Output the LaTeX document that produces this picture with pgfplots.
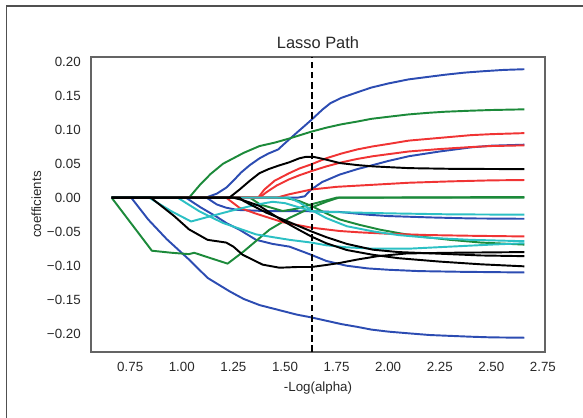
\documentclass[border=0pt]{standalone}
\usepackage{pgfplots}
\pgfplotsset{compat=1.18}
\usepackage{fontspec}
\setmainfont{Liberation Sans}
\definecolor{cb}{RGB}{44,76,178}
\definecolor{cg}{RGB}{28,138,58}
\definecolor{cr}{RGB}{240,52,52}
\definecolor{cc}{RGB}{44,192,196}
\definecolor{framegray}{RGB}{80,80,80}
\definecolor{axisgray}{RGB}{100,100,100}
\definecolor{txt}{RGB}{40,40,40}
\begin{document}
\begin{tikzpicture}
\path[use as bounding box] (0pt,0pt) rectangle (437.25pt,313.5pt);
\draw[color=framegray, line width=1.1pt] (4.7pt,0pt) -- (4.7pt,309.1pt) -- (437.25pt,309.1pt);
\begin{axis}[
  at={(68.25pt,49.5pt)}, anchor=south west,
  scale only axis, width=340.5pt, height=221.25pt,
  xmin=0.56, xmax=2.76, ymin=-0.227, ymax=0.207,
  axis line style={draw=axisgray, line width=1pt},
  major tick length=0pt,
  xtick={0.75,1.0,1.25,1.5,1.75,2.0,2.25,2.5,2.75},
  xticklabels={0.75,1.00,1.25,1.50,1.75,2.00,2.25,2.50,2.75},
  ytick={-0.2,-0.15,-0.1,-0.05,0,0.05,0.1,0.15,0.2},
  yticklabels={−0.20,−0.15,−0.10,−0.05,0.00,0.05,0.10,0.15,0.20},
  tick label style={font=\fontsize{10}{12}\selectfont, text=txt, inner sep=0pt},
  xticklabel style={anchor=north, yshift=-7.3pt},
  yticklabel style={anchor=east, xshift=-7.5pt},
  title={Lasso Path},
  title style={at={(axis description cs:0.5,1.0)}, anchor=base, inner sep=0pt, font=\fontsize{12.3}{14}\selectfont, text=txt},
  xlabel={-Log(alpha)},
  xlabel style={at={(axis description cs:0.5,-0.1342)}, anchor=base, inner sep=0pt, font=\fontsize{10}{12}\selectfont, text=txt},
  ylabel={coefficients},
  ylabel style={at={(axis description cs:-0.1101,0.5)}, anchor=base, inner sep=0pt, font=\fontsize{10}{12}\selectfont, text=txt},
  every axis plot/.append style={line width=1.45pt, line join=round},
  clip=true,
]
% ---- blue ----
\addplot[cb] coordinates {(0.66,0) (1.116,0) (1.17,0.006) (1.215,0.0147) (1.25,0.025) (1.287,0.037) (1.33,0.048) (1.377,0.058) (1.42,0.065) (1.467,0.071) (1.503,0.081) (1.557,0.0956) (1.60,0.107) (1.626,0.114) (1.683,0.130) (1.72,0.139) (1.774,0.147) (1.85,0.155) (1.918,0.162) (2.0,0.168) (2.098,0.174) (2.2,0.178) (2.278,0.181) (2.37,0.184) (2.458,0.186) (2.56,0.188) (2.66,0.189)};
\addplot[cb] coordinates {(0.66,0) (1.56,0) (1.595,0.002) (1.627,0.012) (1.68,0.023) (1.765,0.034) (1.85,0.042) (1.926,0.048) (2.0,0.054) (2.1,0.061) (2.25,0.068) (2.4,0.074) (2.5,0.0765) (2.66,0.078)};
\addplot[cb] coordinates {(0.66,0) (1.12,0) (1.17,-0.010) (1.215,-0.0147) (1.27,-0.018) (1.40,-0.0196) (1.627,-0.020) (1.765,-0.021) (1.9,-0.025) (2.0,-0.027) (2.2,-0.029) (2.4,-0.0305) (2.66,-0.031)};
\addplot[cb] coordinates {(0.66,0) (1.02,0) (1.09,-0.014) (1.166,-0.0275) (1.22,-0.038) (1.279,-0.047) (1.36,-0.062) (1.44,-0.068) (1.522,-0.072) (1.627,-0.084) (1.70,-0.093) (1.797,-0.100) (1.9,-0.104) (2.0,-0.106) (2.15,-0.108) (2.35,-0.109) (2.66,-0.110)};
\addplot[cb] coordinates {(0.66,0) (0.755,0) (0.837,-0.032) (0.927,-0.061) (1.035,-0.091) (1.125,-0.118) (1.233,-0.138) (1.30,-0.149) (1.377,-0.158) (1.467,-0.165) (1.557,-0.172) (1.626,-0.176) (1.70,-0.181) (1.774,-0.186) (1.85,-0.190) (1.918,-0.194) (2.0,-0.197) (2.098,-0.1995) (2.2,-0.202) (2.278,-0.203) (2.4,-0.2045) (2.5,-0.2055) (2.66,-0.206)};
% ---- green ----
\addplot[cg] coordinates {(0.66,0) (1.035,0) (1.09,0.0196) (1.14,0.035) (1.20,0.050) (1.25,0.058) (1.30,0.066) (1.377,0.076) (1.45,0.081) (1.52,0.087) (1.626,0.097) (1.70,0.103) (1.774,0.108) (1.85,0.112) (1.918,0.116) (2.0,0.119) (2.098,0.1225) (2.2,0.125) (2.278,0.1265) (2.4,0.128) (2.5,0.129) (2.66,0.130)};
\addplot[cg] coordinates {(0.66,0) (0.855,-0.078) (0.95,-0.081) (1.035,-0.083) (1.06,-0.081) (1.13,-0.088) (1.222,-0.097) (1.30,-0.079) (1.425,-0.047) (1.52,-0.030) (1.627,-0.0147) (1.70,-0.006) (1.76,0) (2.66,0.001)};
\addplot[cg] coordinates {(0.66,0) (1.33,0) (1.38,-0.010) (1.489,-0.0196) (1.56,-0.016) (1.627,-0.0098) (1.749,0) (2.66,0)};
\addplot[cg] coordinates {(0.66,0) (1.50,0) (1.57,-0.005) (1.627,-0.012) (1.70,-0.023) (1.765,-0.032) (1.862,-0.040) (1.96,-0.047) (2.05,-0.052) (2.15,-0.057) (2.3,-0.062) (2.45,-0.066) (2.66,-0.069)};
% ---- red ----
\addplot[cr] coordinates {(0.66,0) (1.37,0) (1.40,0.012) (1.45,0.025) (1.52,0.036) (1.57,0.043) (1.627,0.049) (1.70,0.058) (1.774,0.065) (1.85,0.071) (1.926,0.0755) (2.0,0.079) (2.1,0.084) (2.25,0.088) (2.4,0.092) (2.5,0.0935) (2.66,0.095)};
\addplot[cr] coordinates {(0.66,0) (1.376,0) (1.41,0.008) (1.46,0.018) (1.52,0.027) (1.57,0.033) (1.627,0.039) (1.70,0.046) (1.774,0.052) (1.85,0.057) (1.926,0.061) (2.0,0.064) (2.1,0.068) (2.25,0.0716) (2.4,0.0745) (2.5,0.076) (2.66,0.077)};
\addplot[cr] coordinates {(0.66,0) (1.46,0) (1.52,0.005) (1.627,0.012) (1.75,0.016) (1.926,0.019) (2.1,0.022) (2.3,0.024) (2.5,0.0255) (2.66,0.026)};
\addplot[cr] coordinates {(0.66,0) (1.215,0) (1.279,-0.0147) (1.36,-0.0235) (1.489,-0.036) (1.627,-0.044) (1.765,-0.049) (1.862,-0.051) (2.0,-0.053) (2.2,-0.055) (2.4,-0.056) (2.66,-0.057)};
% ---- cyan ----
\addplot[cc] coordinates {(0.66,0) (0.842,0) (0.95,-0.020) (1.045,-0.035) (1.13,-0.028) (1.23,-0.020) (1.36,-0.0103) (1.44,-0.006) (1.50,-0.008) (1.627,-0.0196) (1.70,-0.021) (1.862,-0.022) (2.0,-0.023) (2.3,-0.0245) (2.66,-0.025)};
\addplot[cc] coordinates {(0.66,0) (0.98,0) (1.085,-0.020) (1.198,-0.037) (1.36,-0.054) (1.522,-0.062) (1.627,-0.066) (1.70,-0.070) (1.80,-0.073) (1.926,-0.075) (2.1,-0.075) (2.3,-0.072) (2.5,-0.069) (2.66,-0.067)};
\addplot[cc] coordinates {(0.66,0) (1.52,0) (1.57,-0.007) (1.627,-0.018) (1.70,-0.030) (1.80,-0.042) (1.926,-0.0495) (2.05,-0.055) (2.2,-0.059) (2.4,-0.062) (2.66,-0.064)};
% ---- black ----
\addplot[black] coordinates {(0.66,0) (1.23,0) (1.28,0.012) (1.33,0.025) (1.376,0.036) (1.42,0.042) (1.467,0.047) (1.52,0.052) (1.57,0.058) (1.60,0.060) (1.64,0.060) (1.70,0.056) (1.765,0.051) (1.85,0.048) (1.93,0.046) (2.1,0.0435) (2.3,0.0425) (2.66,0.042)};
\addplot[black] coordinates {(0.66,0) (0.85,0) (0.963,-0.027) (1.035,-0.0466) (1.125,-0.062) (1.215,-0.066) (1.25,-0.072) (1.295,-0.084) (1.392,-0.0985) (1.473,-0.103) (1.557,-0.102) (1.627,-0.102) (1.70,-0.099) (1.765,-0.096) (1.85,-0.091) (1.95,-0.086) (2.09,-0.082) (2.3,-0.081) (2.66,-0.080)};
\addplot[black] coordinates {(0.66,0) (1.28,0) (1.30,-0.005) (1.409,-0.022) (1.506,-0.034) (1.627,-0.0495) (1.70,-0.058) (1.80,-0.068) (1.926,-0.0765) (2.05,-0.080) (2.25,-0.0824) (2.45,-0.085) (2.66,-0.086)};
\addplot[black] coordinates {(0.66,0) (1.25,0) (1.30,-0.004) (1.376,-0.012) (1.489,-0.034) (1.56,-0.046) (1.627,-0.057) (1.70,-0.067) (1.80,-0.077) (1.926,-0.084) (2.05,-0.089) (2.25,-0.094) (2.45,-0.098) (2.66,-0.101)};
% ---- dashed marker ----
\addplot[black, line width=1.5pt, dash pattern=on 5pt off 2.6pt] coordinates {(1.63,-0.227) (1.63,0.207)};
\end{axis}
\end{tikzpicture}
\end{document}
